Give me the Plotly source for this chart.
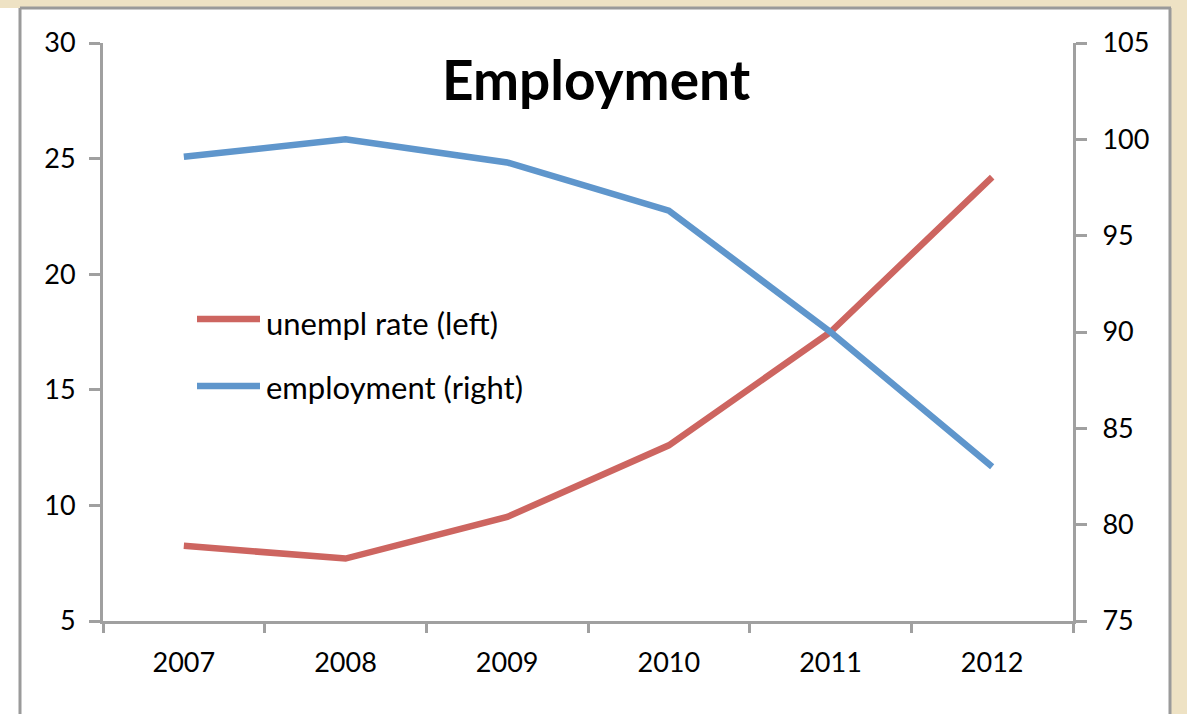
import plotly.graph_objects as go

years = ["2007", "2008", "2009", "2010", "2011", "2012"]
unempl_rate = [8.25, 7.7, 9.5, 12.6, 17.5, 24.2]
employment = [99.1, 100.0, 98.8, 96.3, 90.0, 83.0]

left_ticks = [5, 10, 15, 20, 25, 30]
right_ticks = [75, 80, 85, 90, 95, 100, 105]

RED = "#CD6560"
BLUE = "#5F96CC"
AXIS = "#A0A0A0"
PARCHMENT = "#EEE2C4"
FONT = "Lato, 'Open Sans', sans-serif"

W, H = 1187, 714
L, R, T, B = 103, 114, 43, 93
pw, ph = W - L - R, H - T - B


def px(x):
    return (x - L) / pw


def py(y):
    return (H - B - y) / ph


fig = go.Figure()
fig.add_trace(go.Scatter(x=years, y=unempl_rate, mode="lines", name="unempl rate (left)",
                         line=dict(color=RED, width=6.5), yaxis="y"))
fig.add_trace(go.Scatter(x=years, y=employment, mode="lines", name="employment (right)",
                         line=dict(color=BLUE, width=6.5), yaxis="y2"))

shapes = [
    # parchment surround at top and right
    dict(type="rect", xref="paper", yref="paper", x0=px(0), x1=px(W), y0=py(8), y1=py(0),
         fillcolor=PARCHMENT, line_width=0, layer="below"),
    dict(type="rect", xref="paper", yref="paper", x0=px(1171), x1=px(W), y0=py(H), y1=py(0),
         fillcolor=PARCHMENT, line_width=0, layer="below"),
    # chart frame
    dict(type="line", xref="paper", yref="paper", x0=px(20), x1=px(20), y0=py(H), y1=py(8),
         line=dict(color="#9A9A9A", width=3)),
    dict(type="line", xref="paper", yref="paper", x0=px(20), x1=px(1171), y0=py(8), y1=py(8),
         line=dict(color="#9A9A9A", width=3)),
    dict(type="line", xref="paper", yref="paper", x0=px(1170), x1=px(1170), y0=py(H), y1=py(8),
         line=dict(color="#9A9A9A", width=3)),
    # legend keys
    dict(type="line", xref="paper", yref="paper", x0=px(197), x1=px(260), y0=py(319), y1=py(319),
         line=dict(color=RED, width=6.5)),
    dict(type="line", xref="paper", yref="paper", x0=px(197), x1=px(260), y0=py(386), y1=py(386),
         line=dict(color=BLUE, width=6.5)),
]

annotations = [
    dict(text="<b>Employment</b>", xref="paper", yref="paper", x=px(596), y=py(79),
         xanchor="center", yanchor="middle", showarrow=False,
         font=dict(family=FONT, size=55, color="black")),
    dict(text="unempl rate (left)", xref="paper", yref="paper", x=px(264), y=py(323),
         xanchor="left", yanchor="middle", showarrow=False,
         font=dict(family=FONT, size=31, color="black")),
    dict(text="employment (right)", xref="paper", yref="paper", x=px(264), y=py(387),
         xanchor="left", yanchor="middle", showarrow=False,
         font=dict(family=FONT, size=31, color="black")),
]

fig.update_layout(
    width=W, height=H,
    margin=dict(l=L, r=R, t=T, b=B),
    paper_bgcolor="white", plot_bgcolor="white",
    showlegend=False,
    font=dict(family=FONT, size=27, color="black"),
    shapes=shapes, annotations=annotations,
    xaxis=dict(type="category", range=[-0.5, 5.5], tickson="boundaries",
               ticks="outside", ticklen=9, tickwidth=3, tickcolor=AXIS,
               showline=True, linecolor=AXIS, linewidth=3, showgrid=False,
               zeroline=False, ticklabelstandoff=16),
    yaxis=dict(range=[5, 30], tickvals=left_ticks, ticks="outside", ticklen=11,
               tickwidth=3, tickcolor=AXIS, showline=True, linecolor=AXIS, linewidth=3,
               showgrid=False, zeroline=False, ticklabelstandoff=8),
    yaxis2=dict(range=[75, 105], tickvals=right_ticks, overlaying="y", side="right",
                ticks="outside", ticklen=11, tickwidth=3, tickcolor=AXIS,
                showline=True, linecolor=AXIS, linewidth=3, showgrid=False,
                zeroline=False, ticklabelstandoff=10),
)

fig.write_html("out.html")
